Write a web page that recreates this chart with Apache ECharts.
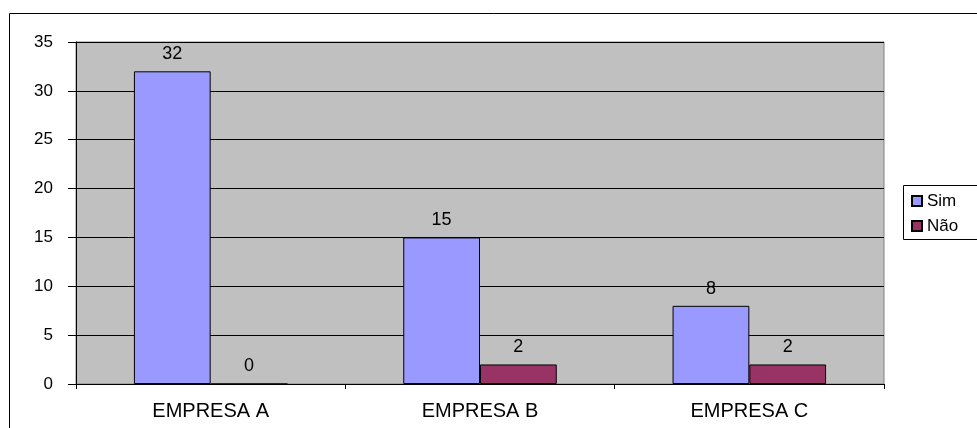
<!DOCTYPE html>
<html><head><meta charset="utf-8">
<script src="https://cdn.jsdelivr.net/npm/echarts@6/dist/echarts.min.js"></script>
<style>html,body{margin:0;padding:0;background:#fff}#c{width:977px;height:428px}</style>
</head><body><div id="c"></div>
<script>
var categories = ['EMPRESA A', 'EMPRESA B', 'EMPRESA C'];
var simValues = [32, 15, 8];
var naoValues = [0, 2, 2];
var seriesNames = ['Sim', 'Não'];
var yMin = 0, yMax = 35, yStep = 5;

var chart = echarts.init(document.getElementById('c'));
var font = 'Liberation Sans, Arial, sans-serif';
chart.setOption({
  animation: false,
  textStyle: {fontFamily: font},
  graphic: [
    {type: 'rect', shape: {x: 9.5, y: 13.5, width: 1000, height: 500}, style: {fill: 'none', stroke: '#000', lineWidth: 1}, z: -1},
    {type: 'rect', shape: {x: 903.5, y: 185.5, width: 100, height: 54}, style: {fill: '#fff', stroke: '#000', lineWidth: 1}, z: 0}
  ],
  grid: {left: 76, right: 93, top: 42, bottom: 44, show: true, backgroundColor: '#c0c0c0', borderColor: '#808080', borderWidth: 1},
  legend: {
    orient: 'vertical', left: 906, top: 187, icon: 'rect', itemWidth: 10, itemHeight: 10, itemGap: 7,
    textStyle: {fontSize: 17, lineHeight: 18, color: '#000', fontFamily: font},
    data: seriesNames
  },
  xAxis: {
    type: 'category', data: categories,
    axisLine: {lineStyle: {color: '#000'}},
    axisTick: {show: true, length: 5, lineStyle: {color: '#000'}},
    axisLabel: {color: '#000', fontSize: 20, lineHeight: 20, margin: 17, fontFamily: font}
  },
  yAxis: {
    type: 'value', min: yMin, max: yMax, interval: yStep,
    axisLine: {show: true, lineStyle: {color: '#000'}},
    axisTick: {show: true, length: 8, lineStyle: {color: '#000'}},
    axisLabel: {color: '#000', fontSize: 17, margin: 23, fontFamily: font},
    splitLine: {show: true, lineStyle: {color: '#000', width: 1}}
  },
  series: [
    {name: seriesNames[0], type: 'bar', data: simValues, barGap: '0%', barCategoryGap: '43%',
     itemStyle: {color: '#9999ff', borderColor: '#000', borderWidth: 1},
     label: {show: true, position: 'top', color: '#000', fontSize: 18, lineHeight: 18, distance: 8, fontFamily: font}},
    {name: seriesNames[1], type: 'bar', data: naoValues, barGap: '0%', barCategoryGap: '43%',
     itemStyle: {color: '#993366', borderColor: '#000', borderWidth: 1},
     label: {show: true, position: 'top', color: '#000', fontSize: 18, lineHeight: 18, distance: 8, fontFamily: font}}
  ]
});
</script></body></html>
